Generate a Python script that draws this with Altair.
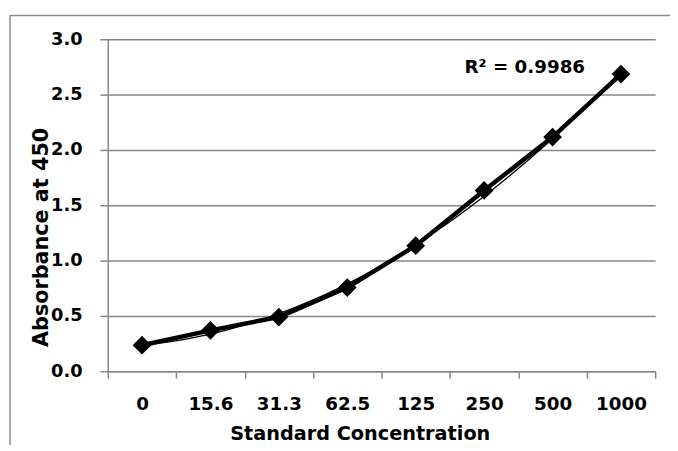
import altair as alt
import pandas as pd

concentrations = ["0", "15.6", "31.3", "62.5", "125", "250", "500", "1000"]
absorbance = [0.235, 0.37, 0.49, 0.756, 1.135, 1.634, 2.116, 2.685]
y_ticks = [0.0, 0.5, 1.0, 1.5, 2.0, 2.5, 3.0]
r2_label = ["R² = 0.9986"]

df = pd.DataFrame({
    "conc": concentrations,
    "idx": list(range(len(concentrations))),
    "abs": absorbance,
})

FONT = "DejaVu Sans"
GRAY = "#878787"

y_enc = alt.Y(
    "abs:Q",
    scale=alt.Scale(domain=[0, 3], nice=False, zero=True),
    axis=alt.Axis(
        values=y_ticks, format=".1f", title="Absorbance at 450",
        grid=True, gridColor=GRAY, gridWidth=1.5,
        domainColor=GRAY, domainWidth=1.5,
        tickColor=GRAY, tickWidth=1.5, tickSize=8,
        labelPadding=18, labelFont=FONT, labelFontSize=18, labelFontWeight="bold",
        labelColor="black",
        titleFont=FONT, titleFontSize=21, titleFontWeight="bold", titleColor="black",
        titleAngle=270, titleAlign="center", titleBaseline="middle",
        titleX=-67, titleY=200,
    ),
)

trend = alt.Chart(df).transform_regression(
    "idx", "abs", method="poly", order=2
).mark_line(color="black", strokeWidth=1.3).encode(
    x=alt.X("idx:Q", scale=alt.Scale(domain=[-0.5, 7.5], nice=False, zero=False), axis=None),
    y=y_enc,
)

main = alt.Chart(df).mark_line(
    color="black", strokeWidth=4.5,
    point=alt.OverlayMarkDef(shape="diamond", filled=True, size=360, color="black", opacity=1),
).encode(
    x=alt.X(
        "conc:N", sort=concentrations,
        scale=alt.Scale(type="band", paddingInner=0, paddingOuter=0),
        axis=alt.Axis(
            title="Standard Concentration", labelAngle=0, tickBand="extent",
            domainColor=GRAY, domainWidth=1.5,
            tickColor=GRAY, tickWidth=1.5, tickSize=7,
            labelPadding=17, labelFont=FONT, labelFontSize=18.5, labelFontWeight="bold",
            labelColor="black",
            titleFont=FONT, titleFontSize=19.5, titleFontWeight="bold", titleColor="black",
            titleAlign="center", titleBaseline="alphabetic", titleX=255, titleY=69,
        ),
    ),
    y=y_enc,
)

one = pd.DataFrame({"label": r2_label})

r2_text = alt.Chart(one).mark_text(
    font=FONT, fontSize=18.5, fontWeight="bold", color="black", align="center", baseline="middle"
).encode(text="label:N", x=alt.value(422), y=alt.value(28))

frame_top = alt.Chart(one).mark_rule(color="#8c8c8c", strokeWidth=1.5).encode(
    x=alt.value(-99), x2=alt.value(700), y=alt.value(-24)
)
frame_left = alt.Chart(one).mark_rule(color="#8c8c8c", strokeWidth=1.5).encode(
    x=alt.value(-99), y=alt.value(-24), y2=alt.value(500)
)

chart = alt.layer(frame_top, frame_left, trend, main, r2_text).resolve_scale(
    x="independent"
).properties(
    width=554, height=336,
    autosize=alt.AutoSizeParams(type="none"),
    padding={"left": 101, "top": 29, "right": 15, "bottom": 72},
    background="white",
).configure_view(stroke=None)

chart.save("out.html", embed_options={"renderer": "svg", "actions": False})
